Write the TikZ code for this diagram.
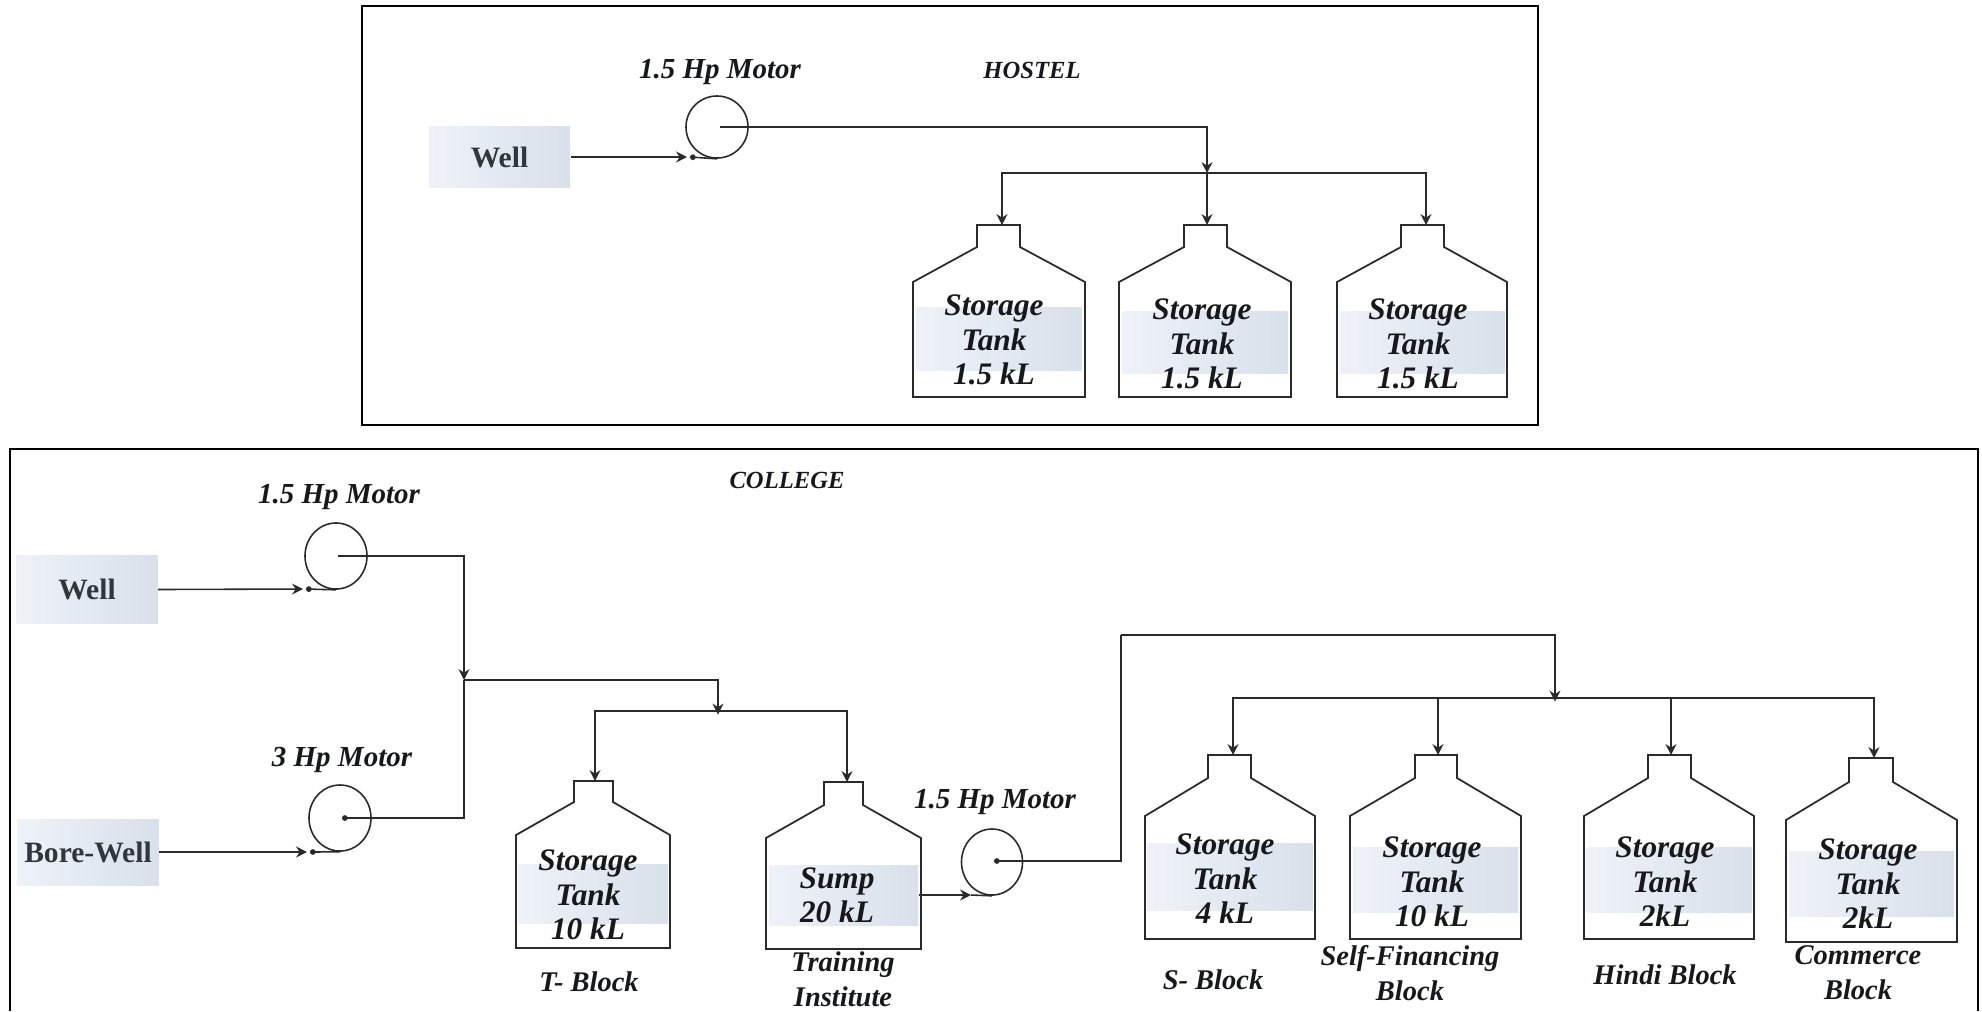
\documentclass[tikz,border=0pt]{standalone}
\usepackage{fontspec}
\setmainfont{Liberation Serif}
\usetikzlibrary{arrows.meta, positioning, shapes.geometric}
\definecolor{shadeleft}{HTML}{EEF2F8}
\definecolor{shaderight}{HTML}{D8E0EA}
\definecolor{linegray}{HTML}{2A2A2A}
\definecolor{wellink}{HTML}{30363C}
\definecolor{textink}{HTML}{16181C}
\begin{document}
\begin{tikzpicture}[
  x=0.01cm, y=-0.01cm,
  frame/.style={draw=black, line width=0.75pt},
  tankline/.style={draw=linegray, line width=0.5pt, line join=miter},
  pipe/.style={draw=linegray, line width=0.45pt},
  feed/.style={pipe, -{Stealth[length=3.1pt, width=3.1pt]}},
  junction/.style={feed, shorten >=-1pt},
  shaftline/.style={pipe, {Circle[length=1.6pt]}-},
  tailline/.style={pipe, -{Circle[length=1.6pt]}},
  motor/.style={ellipse, draw=linegray, line width=0.45pt, minimum width=0.62cm, minimum height=0.66cm, inner sep=0pt},
  sourcebox/.style={shade, left color=shadeleft, right color=shaderight, minimum width=1.41cm, minimum height=0.63cm, inner sep=0pt, text=wellink, font=\bfseries\fontsize{8.4}{10}\selectfont},
  shadebar/.style={shade, left color=shadeleft, right color=shaderight, minimum width=1.65cm, minimum height=0.62cm, inner sep=0pt},
  tanktext/.style={inner sep=0pt, align=center, text=textink, font=\bfseries\itshape\fontsize{8.9}{9.8}\selectfont},
  blocktext/.style={tanktext, font=\bfseries\itshape\fontsize{8.1}{9.9}\selectfont},
  motortext/.style={tanktext, font=\bfseries\itshape\fontsize{8.25}{9.8}\selectfont},
  sitetext/.style={tanktext, font=\bfseries\itshape\fontsize{7}{9}\selectfont},
]
\useasboundingbox (0,0) rectangle (1982,1011);
\draw[frame] (362,6) rectangle (1538,425);
\draw[frame] (10,1011) -- (10,449) -- (1978,449) -- (1978,1011);

% hostel
\node[sitetext] (hostellabel) at (1032,70) {HOSTEL};
\node[motortext] (motorlabelH) at (720,72) {1.5 Hp Motor};
\node[sourcebox, minimum height=0.6cm] (wellH) at (499.5,157) {Well};
\node[motor, minimum height=0.62cm] (motorH) at (717,127) {};
\coordinate (shaftH) at (720,127);
\coordinate (inH) at (687,157);
\coordinate (dotH) at (690,157);
\coordinate (jointH) at (1207,173);
\coordinate (neckA) at (1002,225);
\coordinate (neckB) at (1207,225);
\coordinate (neckC) at (1426,225);
\node[shadebar] (shadeA) at (999,339) {};
\node[shadebar] (shadeB) at (1205,342.5) {};
\node[shadebar] (shadeC) at (1422.5,342.5) {};
\draw[tankline] (913,397) -- (913,282) -- (977,247) -- (977,225) -- (1020,225) -- (1020,247) -- (1085,282) -- (1085,397) -- cycle;
\draw[tankline] (1119,397) -- (1119,282) -- (1184,247) -- (1184,225) -- (1227,225) -- (1227,247) -- (1291,282) -- (1291,397) -- cycle;
\draw[tankline] (1337,397) -- (1337,282) -- (1401,247) -- (1401,225) -- (1444,225) -- (1444,247) -- (1507,282) -- (1507,397) -- cycle;
\node[tanktext] (tankA) at (994,340) {Storage\\Tank\\1.5 kL};
\node[tanktext] (tankB) at (1202,344) {Storage\\Tank\\1.5 kL};
\node[tanktext] (tankC) at (1418,344) {Storage\\Tank\\1.5 kL};
\draw[feed] (wellH.east) -- (inH);
\draw[tailline] (motorH.south) -- (dotH);
\draw[shaftline, -{Stealth[length=3.1pt, width=3.1pt]}] (shaftH) -| (jointH);
\draw[feed] (jointH) -| (neckA);
\draw[feed] (jointH) -- (neckB);
\draw[feed] (jointH) -| (neckC);

% college
\node[sitetext] (collegelabel) at (787,480) {COLLEGE};
\node[motortext] (motorlabelA) at (339,497) {1.5 Hp Motor};
\node[motortext] (motorlabelB) at (342,760) {3 Hp Motor};
\node[motortext] (motorlabelC) at (995,802) {1.5 Hp Motor};
\node[sourcebox, minimum height=0.67cm] (wellA) at (87,589.5) {Well};
\node[sourcebox, minimum height=0.66cm] (wellB) at (88,852) {Bore-Well};
\node[motor] (motorA) at (336,556) {};
\node[motor] (motorB) at (340,818) {};
\node[motor, minimum width=0.61cm] (motorC) at (992,862) {};
\coordinate (shaftA) at (338,556);
\coordinate (shaftB) at (342,818);
\coordinate (shaftC) at (994,861);
\coordinate (inA) at (303,589);
\coordinate (dotA) at (306,589);
\coordinate (inB) at (307,852);
\coordinate (dotB) at (310,852);
\coordinate (inC) at (971,895);
\coordinate (jointA) at (464,680);
\coordinate (jointB) at (718,711);
\coordinate (riseC) at (1121,635);
\coordinate (jointC) at (1555,698);
\coordinate (neckT) at (595,781);
\coordinate (neckP) at (847,782);
\coordinate (neckS) at (1233,755);
\coordinate (neckF) at (1438,755);
\coordinate (neckH) at (1671,755);
\coordinate (neckM) at (1874,758);
\node[shadebar, minimum width=1.5cm, minimum height=0.59cm] (shadeT) at (593,893.5) {};
\node[shadebar, minimum width=1.49cm, minimum height=0.6cm] (shadeP) at (843.5,895) {};
\node[shadebar, minimum height=0.67cm] (shadeS) at (1230,876.5) {};
\node[shadebar, minimum height=0.65cm] (shadeF) at (1435.5,879.5) {};
\node[shadebar, minimum height=0.65cm] (shadeH) at (1669,879.5) {};
\node[shadebar, minimum height=0.65cm] (shadeM) at (1871.5,883.5) {};
\draw[tankline] (516,948) -- (516,835) -- (574,802) -- (574,781) -- (613,781) -- (613,802) -- (670,835) -- (670,948) -- cycle;
\draw[tankline] (766,949) -- (766,838) -- (824,805) -- (824,782) -- (863,782) -- (863,805) -- (921,838) -- (921,949) -- cycle;
\draw[tankline] (1145,939) -- (1145,816) -- (1208,778) -- (1208,755) -- (1251,755) -- (1251,778) -- (1315,816) -- (1315,939) -- cycle;
\draw[tankline] (1350,939) -- (1350,816) -- (1415,778) -- (1415,755) -- (1457,755) -- (1457,778) -- (1521,816) -- (1521,939) -- cycle;
\draw[tankline] (1584,939) -- (1584,816) -- (1648,778) -- (1648,755) -- (1691,755) -- (1691,778) -- (1754,816) -- (1754,939) -- cycle;
\draw[tankline] (1786,942) -- (1786,820) -- (1849,782) -- (1849,758) -- (1893,758) -- (1893,782) -- (1957,820) -- (1957,942) -- cycle;
\node[tanktext] (tankT) at (588,895) {Storage\\Tank\\10 kL};
\node[tanktext] (tankP) at (837,895) {Sump\\20 kL};
\node[tanktext] (tankS) at (1225,879) {Storage\\Tank\\4 kL};
\node[tanktext] (tankF) at (1432,882) {Storage\\Tank\\10 kL};
\node[tanktext] (tankH) at (1665,882) {Storage\\Tank\\2kL};
\node[tanktext] (tankM) at (1868,884) {Storage\\Tank\\2kL};
\node[blocktext] (blockT) at (589,982) {T- Block};
\node[blocktext] (blockP) at (843,979) {Training\\Institute};
\node[blocktext] (blockS) at (1213,980) {S- Block};
\node[blocktext] (blockF) at (1410,973) {Self-Financing\\Block};
\node[blocktext] (blockH) at (1665,975) {Hindi Block};
\node[blocktext] (blockM) at (1858,973) {Commerce\\Block};
\draw[feed] (wellA.east) -- (inA);
\draw[tailline] (motorA.south) -- (dotA);
\draw[feed] (wellB.east) -- (inB);
\draw[tailline] (motorB.south) -- (dotB);
\draw[shaftline, -{Stealth[length=3.1pt, width=3.1pt]}] (shaftA) -| (jointA);
\draw[shaftline] (shaftB) -| (jointA);
\draw[junction] (jointA) -| (jointB);
\draw[feed] (jointB) -| (neckT);
\draw[feed] (jointB) -| (neckP);
\draw[feed] (shadeP.east) -- (inC);
\draw[pipe] (motorC.south) -- (inC);
\draw[shaftline] (shaftC) -| (riseC);
\draw[junction] (riseC) -| (jointC);
\draw[feed] (jointC) -| (neckS);
\draw[feed] (jointC) -| (neckF);
\draw[feed] (jointC) -| (neckH);
\draw[feed] (jointC) -| (neckM);
\end{tikzpicture}
\end{document}
